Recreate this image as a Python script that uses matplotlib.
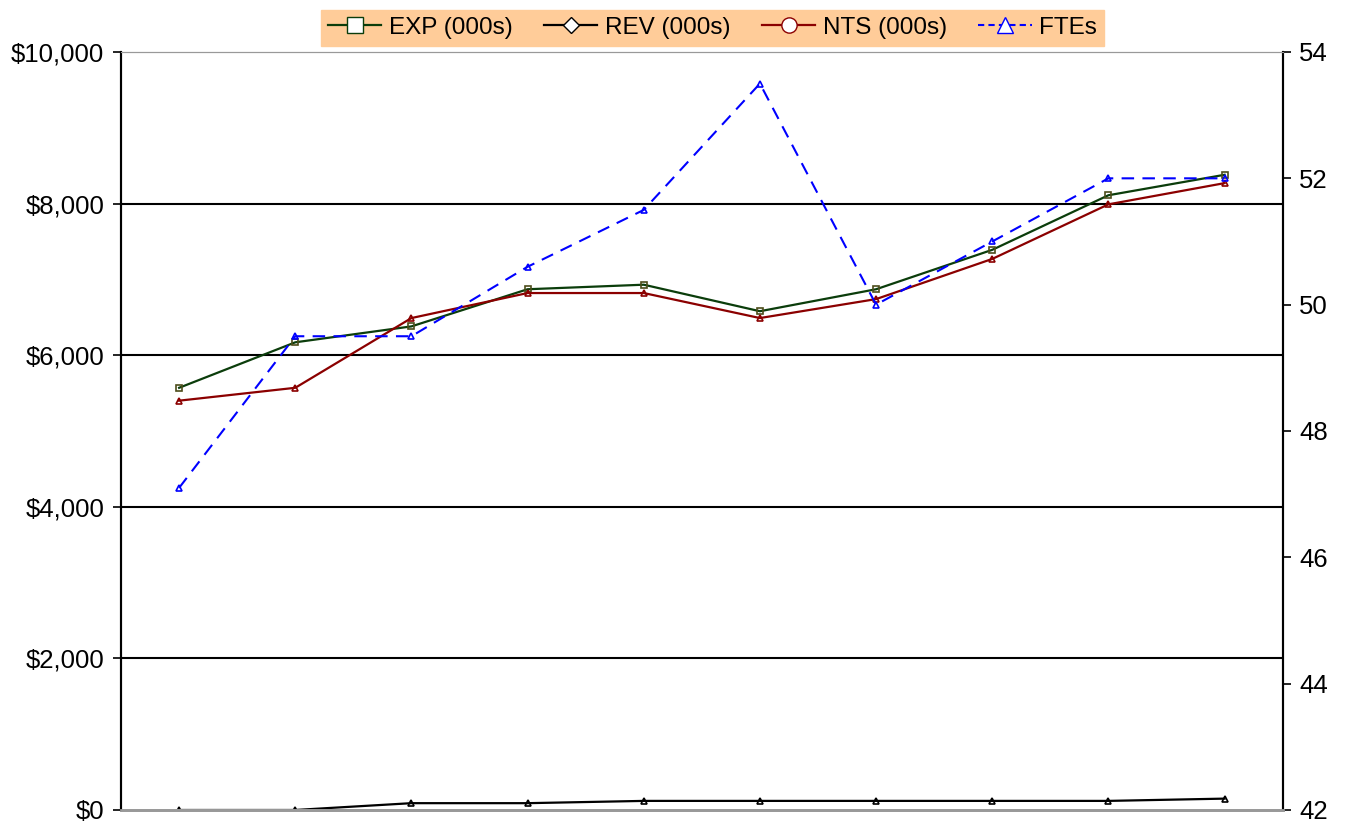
import numpy as np
import matplotlib.pyplot as plt
from matplotlib.lines import Line2D

plt.rcParams['font.family'] = ['Liberation Sans', 'DejaVu Sans']

periods = np.arange(10)
exp_vals = [5570, 6170, 6380, 6870, 6930, 6580, 6870, 7390, 8110, 8380]
rev_vals = [0, 0, 90, 90, 120, 120, 120, 120, 120, 150]
nts_vals = [5400, 5570, 6490, 6820, 6820, 6490, 6740, 7270, 7990, 8270]
ftes = [47.1, 49.5, 49.5, 50.6, 51.5, 53.5, 50.0, 51.0, 52.0, 52.0]

fig = plt.figure(figsize=(13.57, 8.24), dpi=100)
ax = fig.add_axes([0.0892, 0.017, 0.856, 0.9199])
ax2 = ax.twinx()

for y in [2000, 4000, 6000, 8000]:
    ax.axhline(y, color='black', lw=1.5, zorder=0)

ax.plot(periods, exp_vals, color='#0b3d0b', lw=1.6, marker='s', ms=4,
        mfc='none', mec='#4d4d1a', mew=1.2)
ax.plot(periods, rev_vals, color='black', lw=1.6, marker='^', ms=4,
        mfc='none', mec='black', mew=1.2)
ax.plot(periods, nts_vals, color='#8b0000', lw=1.6, marker='^', ms=4,
        mfc='none', mec='#8b0000', mew=1.2)
ax2.plot(periods, ftes, color='#0000ff', lw=1.5, ls=(0, (6, 4)), marker='^', ms=4,
         mfc='none', mec='#0000ff', mew=1.2)

ax.set_xlim(-0.5, 9.5)
ax.set_ylim(0, 10000)
ax.set_yticks(np.arange(0, 10001, 2000))
ax.set_yticklabels(['${:,.0f}'.format(v) for v in np.arange(0, 10001, 2000)])
ax.set_xticks([])
ax2.set_ylim(42, 54)
ax2.set_yticks(np.arange(42, 55, 2))

for a in (ax, ax2):
    a.tick_params(axis='y', labelsize=18.5, length=6, width=1.2, pad=6)
    a.spines['top'].set_color('#999999')
    a.spines['bottom'].set_color('#999999')
    a.spines['bottom'].set_linewidth(2)
    a.spines['left'].set_linewidth(1.5)
    a.spines['right'].set_linewidth(1.5)

handles = [
    Line2D([], [], color='#0b3d0b', lw=1.6, marker='s', ms=11, mfc='white', mec='#0b3d0b'),
    Line2D([], [], color='black', lw=1.6, marker='D', ms=8, mfc='white', mec='black'),
    Line2D([], [], color='#8b0000', lw=1.6, marker='o', ms=11, mfc='white', mec='#8b0000'),
    Line2D([], [], color='#0000ff', lw=1.5, ls=(0, (3, 2)), marker='^', ms=11, mfc='white', mec='#0000ff'),
]
labels = ['EXP (000s)', 'REV (000s)', 'NTS (000s)', 'FTEs']
leg = fig.legend(handles, labels, loc='upper center', bbox_to_anchor=(0.525, 1.003),
                 ncol=4, fontsize=17.5, frameon=True, fancybox=False, handlelength=2.2,
                 columnspacing=1.3, handletextpad=0.3, borderpad=0.3)
leg.get_frame().set_facecolor('#ffcc99')
leg.get_frame().set_edgecolor('#ffcc99')
leg.get_frame().set_alpha(1)

fig.savefig('out.png', dpi=100)
